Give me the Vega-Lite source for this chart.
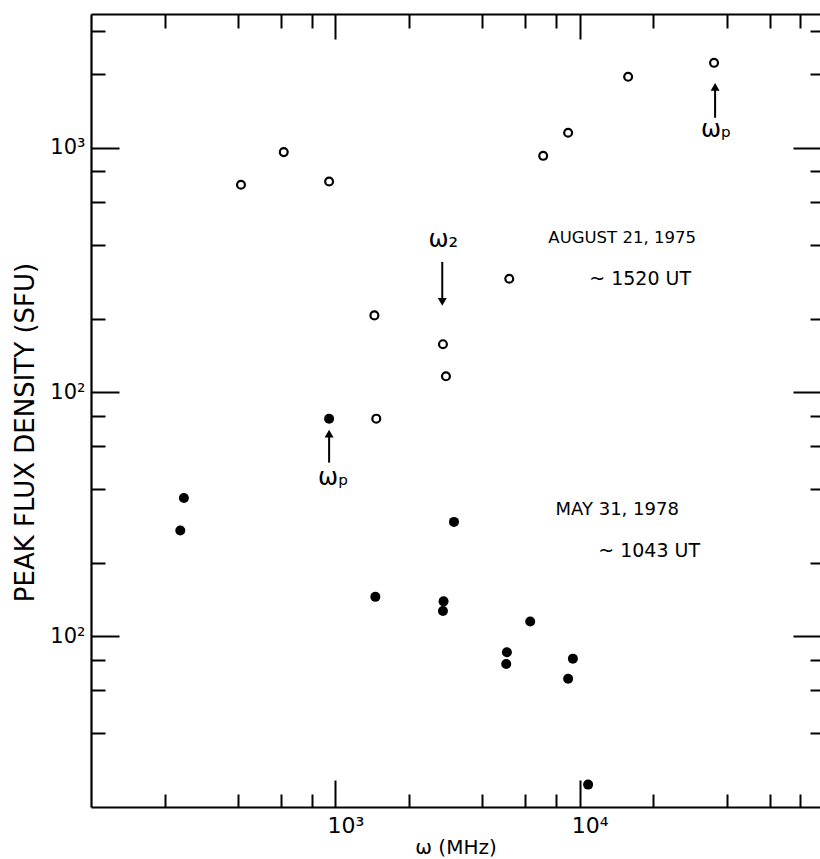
{
  "$schema": "https://vega.github.io/schema/vega-lite/v6.json",
  "width": 729,
  "height": 793,
  "autosize": {"type": "none"},
  "padding": {"left": 91, "top": 14, "right": 0, "bottom": 52},
  "background": "white",
  "config": {
    "view": {"stroke": null},
    "font": "DejaVu Sans",
    "axis": {
      "grid": false,
      "domainColor": "black",
      "tickColor": "black",
      "labelColor": "black",
      "titleColor": "black",
      "domainWidth": 2.2,
      "tickWidth": 2,
      "labelFont": "DejaVu Sans",
      "titleFont": "DejaVu Sans",
      "titleFontWeight": "normal"
    }
  },
  "datasets": {
    "aug1975": [
      {"f": 411, "s": 706}, {"f": 615, "s": 960}, {"f": 943, "s": 728},
      {"f": 1445, "s": 206}, {"f": 1471, "s": 77.8}, {"f": 2757, "s": 157},
      {"f": 2836, "s": 116}, {"f": 5150, "s": 291}, {"f": 7090, "s": 927},
      {"f": 8970, "s": 1152}, {"f": 15790, "s": 1953}, {"f": 35480, "s": 2228}
    ],
    "may1978": [
      {"f": 232, "s": 27.1}, {"f": 240, "s": 36.8}, {"f": 943, "s": 77.8},
      {"f": 1458, "s": 14.5}, {"f": 2773, "s": 13.9}, {"f": 2757, "s": 12.7},
      {"f": 3059, "s": 29.4}, {"f": 5037, "s": 8.6}, {"f": 5005, "s": 7.7},
      {"f": 6275, "s": 11.5}, {"f": 8970, "s": 6.7}, {"f": 9380, "s": 8.1},
      {"f": 10830, "s": 2.47}
    ],
    "notes": [
      {"f": 14920, "s": 428, "label": "AUGUST 21, 1975", "size": 16.5},
      {"f": 17680, "s": 291, "label": "~ 1520 UT", "size": 19},
      {"f": 14240, "s": 33.0, "label": "MAY 31, 1978", "size": 18},
      {"f": 19240, "s": 22.4, "label": "~ 1043 UT", "size": 19},
      {"f": 2765, "s": 420, "label": "ω₂", "size": 24},
      {"f": 981, "s": 44.6, "label": "ωₚ", "size": 24},
      {"f": 36170, "s": 1185, "label": "ωₚ", "size": 24}
    ],
    "arrows": [
      {"f": 2739, "s": 341, "s2": 234},
      {"f": 943, "s": 51.4, "s2": 67.5},
      {"f": 35830, "s": 1327, "s2": 1777}
    ],
    "heads": [
      {"f": 2739, "s": 234, "dir": "down"},
      {"f": 943, "s": 67.5, "dir": "up"},
      {"f": 35830, "s": 1777, "dir": "up"}
    ]
  },
  "layer": [
    {
      "data": {"name": "aug1975"},
      "mark": {"type": "point", "shape": "circle", "filled": false, "size": 62, "stroke": "black", "strokeWidth": 2.2, "opacity": 1},
      "encoding": {
        "x": {
          "field": "f", "type": "quantitative",
          "scale": {"type": "log", "domain": [100, 96300], "nice": false},
          "axis": {
            "orient": "bottom", "title": "ω (MHz)", "titleFontSize": 20,
            "titleBaseline": "middle", "titleY": 40,
            "values": [1000, 10000], "ticks": false, "domain": true,
            "labelFontSize": 22, "labelPadding": 8, "labelOffset": 10,
            "labelExpr": "datum.value == 1000 ? '10³' : '10⁴'"
          }
        },
        "y": {
          "field": "s", "type": "quantitative",
          "scale": {"type": "log", "domain": [2, 3530], "nice": false},
          "axis": {
            "orient": "left", "title": "PEAK FLUX DENSITY (SFU)", "titleFontSize": 26,
            "titleX": -66, "titleY": 418, "titleBaseline": "middle", "titleAngle": -90,
            "values": [1000, 100, 10], "ticks": false, "domain": true,
            "labelFontSize": 21, "labelPadding": 6, "labelBaseline": "middle",
            "labelExpr": "datum.value == 1000 ? '10³' : '10²'"
          }
        }
      }
    },
    {
      "data": {"name": "may1978"},
      "mark": {"type": "point", "shape": "circle", "filled": true, "size": 100, "color": "black", "opacity": 1},
      "encoding": {
        "x": {
          "field": "f", "type": "quantitative",
          "scale": {"type": "log", "domain": [100, 96300], "nice": false},
          "axis": {"orient": "bottom", "title": null, "labels": false, "domain": false,
                   "values": [1000, 10000], "tickSize": -27}
        },
        "y": {
          "field": "s", "type": "quantitative",
          "scale": {"type": "log", "domain": [2, 3530], "nice": false},
          "axis": {"orient": "left", "title": null, "labels": false, "domain": false,
                   "values": [1000, 100, 10], "tickSize": -28}
        }
      }
    },
    {
      "data": {"name": "notes"},
      "mark": {"type": "text", "color": "black", "align": "center", "baseline": "middle", "font": "DejaVu Sans"},
      "encoding": {
        "x": {
          "field": "f", "type": "quantitative",
          "scale": {"type": "log", "domain": [100, 96300], "nice": false},
          "axis": {"orient": "bottom", "title": null, "labels": false, "domain": false,
                   "values": [200, 400, 600, 800, 2000, 4000, 6000, 8000, 20000, 40000, 60000, 80000],
                   "tickSize": -13}
        },
        "y": {
          "field": "s", "type": "quantitative",
          "scale": {"type": "log", "domain": [2, 3530], "nice": false},
          "axis": {"orient": "left", "title": null, "labels": false, "domain": false,
                   "values": [4, 6, 8, 20, 40, 60, 80, 200, 400, 600, 800, 2000, 3000],
                   "tickSize": -14}
        },
        "text": {"field": "label"},
        "size": {"field": "size", "type": "quantitative", "scale": null}
      }
    },
    {
      "data": {"name": "arrows"},
      "mark": {"type": "rule", "color": "black", "strokeWidth": 2},
      "encoding": {
        "x": {
          "field": "f", "type": "quantitative",
          "scale": {"type": "log", "domain": [100, 96300], "nice": false},
          "axis": {"orient": "top", "title": null, "labels": false, "domain": true,
                   "values": [1000, 10000], "tickSize": -25}
        },
        "y": {
          "field": "s", "type": "quantitative",
          "scale": {"type": "log", "domain": [2, 3530], "nice": false},
          "axis": {"orient": "right", "title": null, "labels": false, "domain": false,
                   "values": [1000, 100, 10], "tickSize": -27}
        },
        "y2": {"field": "s2"}
      }
    },
    {
      "data": {"name": "heads"},
      "mark": {"type": "point", "filled": true, "color": "black", "size": 80, "opacity": 1},
      "encoding": {
        "x": {
          "field": "f", "type": "quantitative",
          "scale": {"type": "log", "domain": [100, 96300], "nice": false},
          "axis": {"orient": "top", "title": null, "labels": false, "domain": false,
                   "values": [200, 400, 600, 800, 2000, 4000, 6000, 8000, 20000, 40000, 60000, 80000],
                   "tickSize": -14}
        },
        "y": {
          "field": "s", "type": "quantitative",
          "scale": {"type": "log", "domain": [2, 3530], "nice": false},
          "axis": {"orient": "right", "title": null, "labels": false, "domain": false,
                   "values": [4, 6, 8, 20, 40, 60, 80, 200, 400, 600, 800, 2000, 3000],
                   "tickSize": -10}
        },
        "shape": {
          "field": "dir", "type": "nominal",
          "scale": {"domain": ["up", "down"], "range": ["triangle-up", "triangle-down"]},
          "legend": null
        }
      }
    }
  ],
  "resolve": {"axis": {"x": "independent", "y": "independent"}}
}
